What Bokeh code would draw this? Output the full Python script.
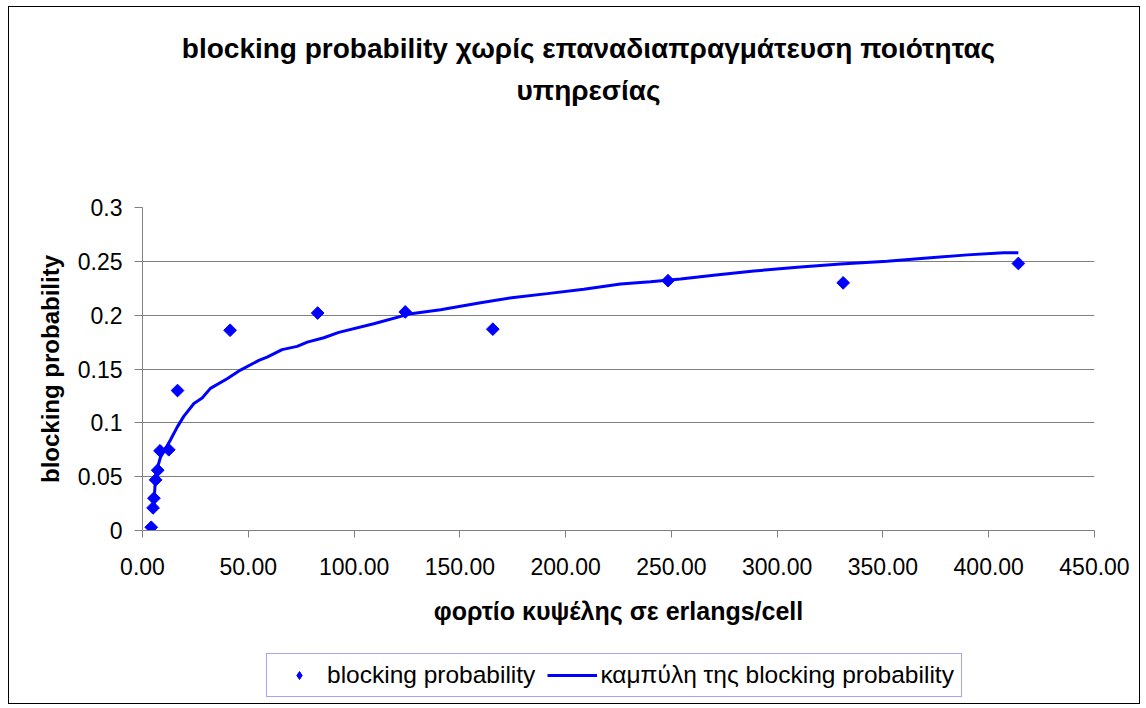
import numpy as np
from bokeh.plotting import figure
from bokeh.layouts import column
from bokeh.models import (Range1d, FixedTicker, Legend, LegendItem, Label)
from bokeh.embed import file_html
from bokeh.resources import INLINE

# ---- data ----
load_x = [4.14, 5.0, 5.4, 6.2, 7.2, 8.28, 12.42, 16.56, 41.4, 82.8, 124.2, 165.6, 248.4, 331.2, 414.0]
block_y = [0.003, 0.021, 0.030, 0.047, 0.056, 0.074, 0.075, 0.130, 0.186, 0.202, 0.203, 0.187, 0.232, 0.230, 0.248]

curve_x = [5.3, 6.0, 7.0, 8.5, 13.2, 16.4, 19.5, 24.3, 28.2, 32.1, 40.0, 46.3, 55.0, 58.9, 66.0,
           73.1, 77.9, 85.7, 92.8, 109.3, 126.0, 140.9, 159.8, 175.5, 191.3, 208.6, 226.0,
           240.1, 254.3, 270.0, 289.0, 309.5, 330.0, 352.0, 371.0, 390.0, 407.0, 414.0]
curve_y = [0.020, 0.045, 0.058, 0.068, 0.084, 0.096, 0.106, 0.118, 0.123, 0.132, 0.141, 0.149, 0.158, 0.161, 0.168,
           0.171, 0.175, 0.179, 0.184, 0.192, 0.201, 0.205, 0.2115, 0.2165, 0.220, 0.224, 0.229,
           0.231, 0.2335, 0.237, 0.241, 0.2445, 0.2475, 0.250, 0.253, 0.256, 0.258, 0.258]

x_ticks = [0, 50, 100, 150, 200, 250, 300, 350, 400, 450]
x_tick_labels = ["0.00", "50.00", "100.00", "150.00", "200.00", "250.00", "300.00", "350.00", "400.00", "450.00"]
y_ticks = [0, 0.05, 0.1, 0.15, 0.2, 0.25, 0.3]
y_tick_labels = ["0", "0.05", "0.1", "0.15", "0.2", "0.25", "0.3"]

title_lines = ["blocking probability χωρίς επαναδιαπραγμάτευση ποιότητας", "υπηρεσίας"]
x_title = "φορτίο κυψέλης σε erlangs/cell"
y_title = "blocking probability"
series_names = ["blocking probability", "καμπύλη της blocking probability"]

FONT = "Liberation Sans"
BLUE = "#0000FF"
GRAY = "#808080"

# page geometry: everything sits inside a 1px black chart border
OX, OY = 9, 7            # content origin on the page
CW = 1130                # content width
TOP_H, MAIN_H, BOT_H = 180, 458, 58
FL, FR, FT, FB = 142, 1094, 207, 530  # plot-frame edges in page pixels
MAIN_TOP = OY + TOP_H
BOT_TOP = MAIN_TOP + MAIN_H
PAGE_BOTTOM = BOT_TOP + BOT_H


def blank(height):
    f = figure(width=CW, height=height, output_backend="svg", toolbar_location=None,
               x_axis_location=None, y_axis_location=None,
               x_range=Range1d(0, 1), y_range=Range1d(0, 1),
               min_border=0, outline_line_color=None,
               background_fill_color="white", border_fill_color="white")
    f.grid.visible = False
    return f


# ---- title strip (its frame is aligned with the main plot frame by the column) ----
top = blank(TOP_H)
for t, cy in zip(title_lines, [48, 90]):
    top.add_layout(Label(x=588 - FL, y=MAIN_TOP - cy, x_units="screen", y_units="screen",
                         text=t, text_align="center", text_baseline="middle",
                         text_font=FONT, text_font_style="bold", text_font_size="28px",
                         text_color="black"))

# ---- main plot ----
p = figure(width=CW, height=MAIN_H, output_backend="svg", toolbar_location=None,
           x_range=Range1d(0, 450), y_range=Range1d(0, 0.3),
           min_border_left=FL - OX, min_border_right=OX + CW - FR,
           min_border_top=FT - MAIN_TOP, min_border_bottom=BOT_TOP - FB,
           background_fill_color="white", border_fill_color="white", outline_line_color=None)

p.xaxis.ticker = FixedTicker(ticks=x_ticks)
p.yaxis.ticker = FixedTicker(ticks=y_ticks)
p.xaxis.major_label_overrides = {t: l for t, l in zip(x_ticks, x_tick_labels)}
p.yaxis.major_label_overrides = {t: l for t, l in zip(y_ticks, y_tick_labels)}
for ax in (p.xaxis[0], p.yaxis[0]):
    ax.axis_line_color = GRAY
    ax.major_tick_line_color = GRAY
    ax.minor_tick_line_color = None
    ax.major_tick_in = 0
    ax.major_label_text_font = FONT
    ax.major_label_text_font_size = "23px"
    ax.major_label_text_color = "black"
    ax.axis_label_text_font = FONT
    ax.axis_label_text_font_style = "bold"
    ax.axis_label_text_color = "black"
p.xaxis.axis_label_text_font_size = "25px"
p.yaxis.axis_label_text_font_size = "24px"
p.xaxis.major_tick_out = 7
p.yaxis.major_tick_out = 8
p.xaxis.major_label_standoff = 20
p.yaxis.major_label_standoff = 12
p.xaxis.axis_label = x_title
p.yaxis.axis_label = y_title
p.xaxis.axis_label_standoff = 19
p.yaxis.axis_label_standoff = 11

p.xgrid.grid_line_color = None
p.ygrid.ticker = FixedTicker(ticks=[0.05, 0.1, 0.15, 0.2, 0.25])
p.ygrid.grid_line_color = GRAY
p.ygrid.grid_line_width = 1

p.line(curve_x, curve_y, line_color=BLUE, line_width=3)
p.scatter(load_x, block_y, marker="square", angle=np.pi / 4, size=9,
          fill_color=BLUE, line_color=BLUE)

# ---- legend strip (same series, drawn out of view, only their legend samples show) ----
bot = blank(BOT_H)
bot.x_range = Range1d(0, 450)
bot.y_range = Range1d(1, 2)
lg_line = bot.line(curve_x, curve_y, line_color=BLUE, line_width=3)
lg_pts = bot.scatter(load_x, block_y, marker="diamond", size=13, fill_color=BLUE, line_color=BLUE)
legend = Legend(items=[LegendItem(label=series_names[0], renderers=[lg_pts]),
                       LegendItem(label=series_names[1], renderers=[lg_line])],
                orientation="horizontal", location=(266 - FL, PAGE_BOTTOM - 697),
                glyph_width=50, glyph_height=20, label_standoff=3, spacing=12,
                padding=7, margin=0,
                label_text_font=FONT, label_text_font_size="24.5px", label_text_color="black",
                border_line_color="#4848ff", border_line_width=1,
                background_fill_color="white", background_fill_alpha=1.0)
bot.add_layout(legend, "center")

page = column(top, p, bot, spacing=0, margin=(OY - 1, 0, 0, OX - 1),
              styles={"border": "1px solid black"})

open("out.html", "w").write(file_html(page, INLINE))
